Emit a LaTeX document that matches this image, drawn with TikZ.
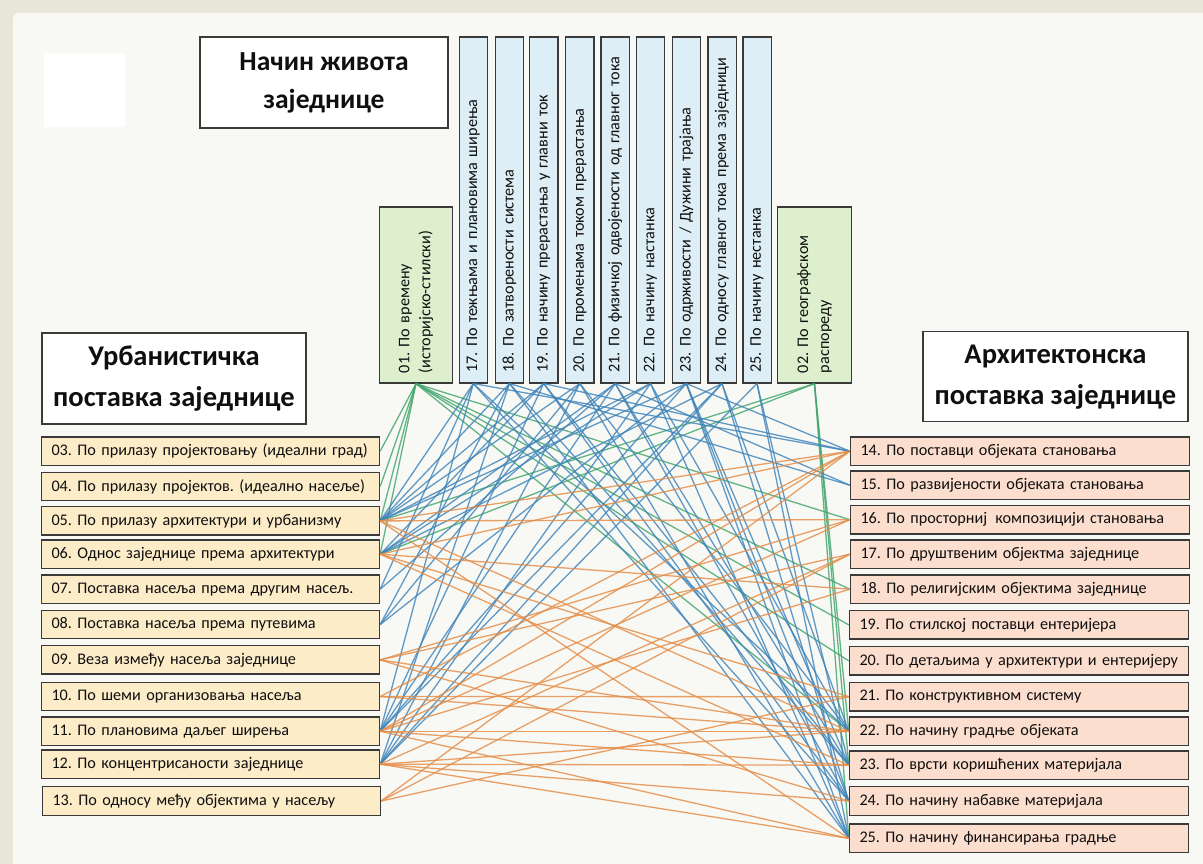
\documentclass[tikz,border=0pt]{standalone}
\usepackage{fontspec}
\setmainfont{Carlito}
\frenchspacing
\definecolor{frameclr}{RGB}{232,230,216}
\definecolor{panelclr}{RGB}{248,248,244}
\definecolor{boxline}{RGB}{58,58,58}
\definecolor{lfill}{RGB}{253,236,200}
\definecolor{rfill}{RGB}{252,222,206}
\definecolor{bfill}{RGB}{221,238,246}
\definecolor{gfill}{RGB}{222,239,206}
\definecolor{gclr}{RGB}{64,165,108}
\definecolor{bclr}{RGB}{62,132,186}
\definecolor{oclr}{RGB}{228,140,70}
\newcommand\bxfont{\fontsize{16.2}{19}\selectfont}
\newcommand\hdfont{\fontsize{27.5}{38}\selectfont\bfseries}
\begin{document}
\begin{tikzpicture}[x=1pt,y=-1pt,
  every node/.style={text=black!94},
  title/.style={draw=boxline,line width=1.3pt,fill=white,align=center,font=\hdfont,inner sep=0pt},
  lbox/.style={draw=boxline,line width=1.4pt,fill=lfill,minimum width=338pt,minimum height=28.5pt,
    text width=318pt,inner xsep=10pt,inner ysep=0pt,align=left,font=\bxfont},
  rbox/.style={lbox,fill=rfill,minimum width=339pt,text width=319pt},
  vbox/.style={draw=boxline,line width=1.3pt,fill=bfill,rotate=90,minimum width=346pt,minimum height=28.3pt,
    text width=326pt,inner xsep=10pt,inner ysep=0pt,align=left,font=\bxfont},
  gbox/.style={vbox,fill=gfill,minimum width=176pt,minimum height=73.4pt,text width=156pt,
    font=\fontsize{16.2}{21}\selectfont},
  link/.style={line width=1.3pt,opacity=0.82},
  glink/.style={link,draw=gclr},
  blink/.style={link,draw=bclr},
  olink/.style={link,draw=oclr}]
\useasboundingbox (0,0) rectangle (1203,864);
% frame and panel
\fill[frameclr] (0,0) rectangle (1203,864);
\fill[panelclr,rounded corners=5pt] (13,13) rectangle (1215,880);
\fill[white] (44,53) rectangle (125,127);

% headings
\node[title,minimum width=248pt,minimum height=91pt] (T1) at (324,82.5) {Начин живота\\заједнице};
\node[title,minimum width=264pt,minimum height=91pt,font=\fontsize{28.5}{41}\selectfont\bfseries] (T2) at (174,378.5) {Урбанистичка\\поставка заједнице};
\node[title,minimum width=265pt,minimum height=90pt,font=\fontsize{28.5}{41}\selectfont\bfseries] (T3) at (1055.5,376.7) {Архитектонска\\поставка заједнице};

% upper criteria (vertical)
\node[gbox] (G01) at (416,295) {01. По времену\\(историјско-стилски)};
\node[gbox] (G02) at (814.5,295) {02. По географском\\распореду};
\node[vbox] (B17) at (473.3,209.9) {17. По тежњама и плановима ширења};
\node[vbox] (B18) at (509.5,209.9) {18. По затворености система};
\node[vbox] (B19) at (543.7,209.9) {19. По начину прерастања у главни ток};
\node[vbox] (B20) at (579.9,209.9) {20. По променама током прерастања};
\node[vbox] (B21) at (615.2,209.9) {21. По физичкој одвојености од главног тока};
\node[vbox] (B22) at (650.5,209.9) {22. По начину настанка};
\node[vbox] (B23) at (686.3,209.9) {23. По одрживости / Дужини трајања};
\node[vbox] (B24) at (722,209.9) {24. По односу главног тока према заједници};
\node[vbox] (B25) at (757,209.9) {25. По начину нестанка};

% urban criteria (left)
\node[lbox] (L03) at (210.5,451.2) {03. По прилазу пројектовању (идеални град)};
\node[lbox] (L04) at (210.5,486.5) {04. По прилазу пројектов. (идеално насеље)};
\node[lbox] (L05) at (210.5,520.9) {05. По прилазу архитектури и урбанизму};
\node[lbox] (L06) at (210.5,554.2) {06. Однос заједнице према архитектури};
\node[lbox] (L07) at (210.5,589.2) {07. Поставка насеља према другим насељ.};
\node[lbox] (L08) at (210.5,624.5) {08. Поставка насеља према путевима};
\node[lbox] (L09) at (210.5,659.9) {09. Веза између насеља заједнице};
\node[lbox] (L10) at (210.5,696.5) {10. По шеми организовања насеља};
\node[lbox] (L11) at (210.5,731.2) {11. По плановима даљег ширења};
\node[lbox] (L12) at (210.5,764.2) {12. По концентрисаности заједнице};
\node[lbox] (L13) at (211.5,801) {13. По односу међу објектима у насељу};

% architectural criteria (right)
\node[rbox] (R14) at (1020,451.2) {14. По поставци објеката становања};
\node[rbox] (R15) at (1020,485.2) {15. По развијености објеката становања};
\node[rbox] (R16) at (1020,519.7) {16. По просторниј\, композицији становања};
\node[rbox] (R17) at (1020,554.2) {17. По друштвеним објектма заједнице};
\node[rbox] (R18) at (1020,589.2) {18. По религијским објектима заједнице};
\node[rbox] (R19) at (1019,624.9) {19. По стилској поставци ентеријера};
\node[rbox] (R20) at (1019,660.9) {20. По детаљима у архитектури и ентеријеру};
\node[rbox] (R21) at (1019,696.7) {21. По конструктивном систему};
\node[rbox] (R22) at (1019,731.2) {22. По начину градње објеката};
\node[rbox] (R23) at (1019,765.2) {23. По врсти коришћених материјала};
\node[rbox] (R24) at (1019,801) {24. По начину набавке материјала};
\node[rbox] (R25) at (1019,838.4) {25. По начину финансирања градње};

% general criteria to urban and architectural criteria
\foreach \s/\t in {G01/L03,G01/L04,G01/L05,G01/L06,G02/L05,G02/L06}
  \draw[glink] (\s.west) -- (\t.east);
\foreach \s/\t in {G01/R16,G01/R18,G01/R19,G01/R20,G01/R22,G02/R22,G02/R23,G02/R25}
  \draw[glink] (\s.west) -- (\t.west);

% lifestyle criteria to urban criteria
\foreach \s/\t in {B17/L05,B17/L07,B17/L11,B18/L05,B18/L08,B18/L12,B19/L05,B19/L06,B19/L11,
  B20/L05,B20/L08,B20/L12,B21/L06,B21/L07,B21/L11,B22/L05,B22/L06,B22/L12,
  B23/L05,B23/L08,B23/L11,B24/L06,B24/L11,B24/L12,B25/L12}
  \draw[blink] (\s.west) -- (\t.east);
% lifestyle criteria to architectural criteria
\foreach \s/\t in {B17/R14,B17/R22,B17/R24,B18/R15,B18/R23,B18/R25,B19/R14,B19/R23,B19/R24,
  B20/R22,B20/R25,B21/R15,B21/R23,B21/R24,B22/R22,B22/R25,
  B23/R14,B23/R23,B23/R24,B23/R25,B24/R22,B24/R24,B25/R23,B25/R25}
  \draw[blink] (\s.west) -- (\t.west);

% urban criteria to architectural criteria
\foreach \s/\t in {L05/R14,L05/R16,L05/R22,L05/R25,L06/R14,L06/R18,L06/R21,L06/R23,
  L09/R16,L09/R17,L09/R22,L09/R24,L10/R14,L10/R21,L10/R22,
  L11/R14,L11/R16,L11/R18,L11/R22,L11/R23,L11/R25,
  L12/R17,L12/R22,L12/R23,L12/R24,L12/R25,L13/R14,L13/R17,L13/R21}
  \draw[olink] (\s.east) -- (\t.west);
\end{tikzpicture}
\end{document}
